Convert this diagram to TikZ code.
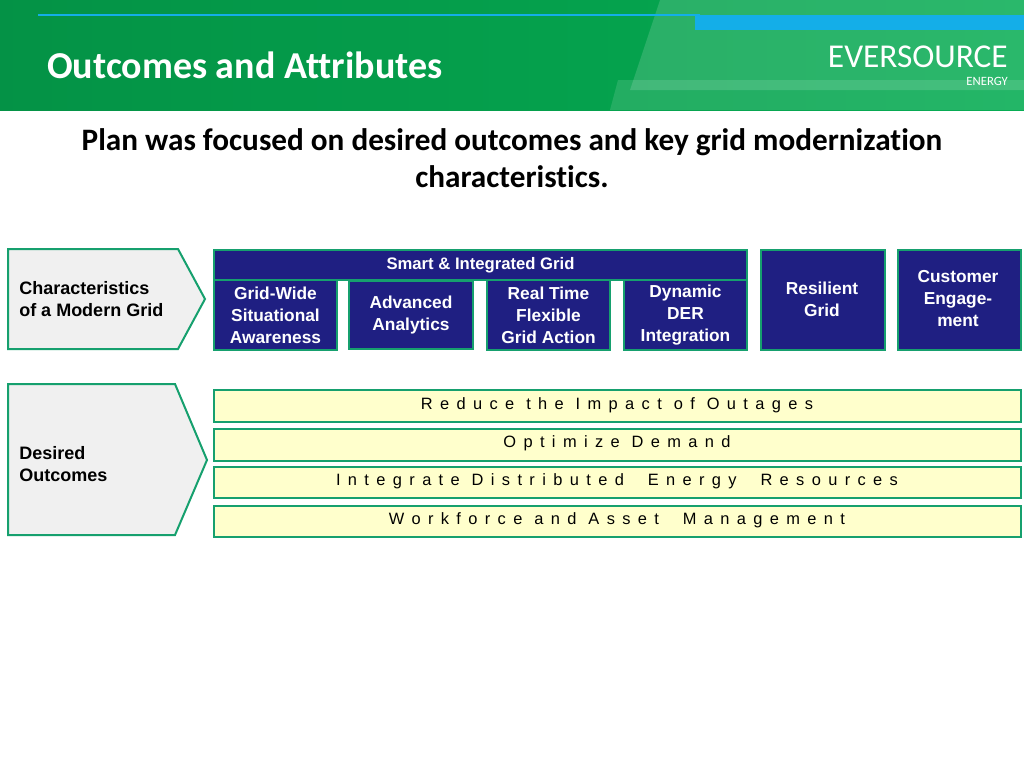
\documentclass[tikz,border=0pt]{standalone}
\usepackage{fontspec}
\setmainfont{Liberation Sans}
\newfontfamily\carl[Ligatures=NoCommon]{Carlito}
\definecolor{tealc}{HTML}{16A06E}
\definecolor{navy}{HTML}{1F1F82}
\definecolor{ylw}{HTML}{FFFFCC}
\definecolor{hdr}{HTML}{05AC52}
\definecolor{sky}{HTML}{14AEE8}
\tikzset{
 bluebox/.style={draw=tealc,line width=1.5pt,fill=navy,text=white,font=\bfseries\fontsize{13}{16.5}\selectfont,align=center},
 bar/.style={draw=tealc,line width=1.5pt,fill=ylw,font=\fontsize{12.3}{14}\selectfont\addfontfeature{LetterSpace=45}},
 chev/.style={draw=tealc,line width=1.5pt,fill=black!6},
 lbl/.style={font=\bfseries\fontsize{13.5}{16.5}\selectfont,align=left,anchor=west,inner sep=0}
}
\begin{document}
\begin{tikzpicture}[x=0.75pt,y=-0.75pt]
\useasboundingbox (0,0) rectangle (1024,768);
\fill[white] (0,0) rectangle (1024,768);
% header
\shade[left color=hdr!85!black,right color=hdr] (0,0) rectangle (1024,110);
\fill[white,opacity=0.15] (660,0) -- (1024,0) -- (1024,90) -- (630,90) -- cycle;
\fill[white,opacity=0.12] (618,80) -- (1024,80) -- (1024,110) -- (610,110) -- cycle;
\draw[sky,line width=1pt] (38,15) -- (700,15);
\fill[sky] (695,15) rectangle (1024,30);
\node[anchor=west,text=white,font=\carl\bfseries\fontsize{28.5}{30}\selectfont,inner sep=0] (title) at (47,65) {Outcomes and Attributes};
\node[anchor=east,text=white,font=\carl\fontsize{25}{26}\selectfont,inner sep=0] (logo) at (1008,57) {EVERSOURCE};
\node[anchor=north east,text=white,font=\carl\fontsize{9.5}{10}\selectfont,inner sep=0] (energy) at (1008,77) {ENERGY};
\node[font=\carl\bfseries\fontsize{23.4}{28}\selectfont,align=center] (head) at (512,158) {Plan was focused on desired outcomes and key grid modernization\\characteristics.};
% chevrons
\draw[chev] (8,249) -- (178,249) -- (205,299) -- (178,349) -- (8,349) -- cycle;
\node[lbl] (c1) at (19,299) {Characteristics\\of a Modern Grid};
\draw[chev] (8,384) -- (175,384) -- (207,460) -- (175,535) -- (8,535) -- cycle;
\node[lbl] (c2) at (19,464) {Desired\\Outcomes};
% blue boxes
\node[bluebox,minimum width=533*0.75pt,minimum height=30*0.75pt,anchor=north west,font=\bfseries\fontsize{12.5}{14}\selectfont] (smart) at (213,249) {Smart \& Integrated Grid};
\node[bluebox,minimum width=123*0.75pt,minimum height=70*0.75pt,anchor=north west,inner sep=0] (gw) at (213,279) {Grid-Wide\\Situational\\Awareness};
\node[bluebox,minimum width=124*0.75pt,minimum height=68*0.75pt,anchor=north west,inner sep=0] (aa) at (348,280) {Advanced\\Analytics};
\node[bluebox,minimum width=123*0.75pt,minimum height=70*0.75pt,anchor=north west,inner sep=0] (rt) at (486,279) {Real Time\\Flexible\\Grid Action};
\node[bluebox,minimum width=123*0.75pt,minimum height=70*0.75pt,anchor=north west,inner sep=0] (dd) at (623,279) {Dynamic\\DER\\Integration};
\node[bluebox,minimum width=124*0.75pt,minimum height=100*0.75pt,anchor=north west,inner sep=0] (rg) at (760,249) {};
\node[text=white,font=\bfseries\fontsize{13}{16.5}\selectfont,align=center] (rgt) at (822,299) {Resilient\\Grid};
\node[bluebox,minimum width=123*0.75pt,minimum height=100*0.75pt,anchor=north west,inner sep=0] (ce) at (897,249) {};
\node[text=white,font=\bfseries\fontsize{13}{16.5}\selectfont,align=center] (cet) at (958,299) {Customer\\Engage-\\ment};
% bars
\node[bar,minimum width=807*0.75pt,minimum height=32*0.75pt,anchor=north west] (b1) at (213,389) {};
\node[bar,draw=none,fill=none] (t1) at (617,405) {Reduce the Impact of Outages};
\node[bar,minimum width=807*0.75pt,minimum height=32*0.75pt,anchor=north west] (b2) at (213,428) {};
\node[bar,draw=none,fill=none] (t2) at (617,443) {Optimize Demand};
\node[bar,minimum width=807*0.75pt,minimum height=31*0.75pt,anchor=north west] (b3) at (213,466) {};
\node[bar,draw=none,fill=none] (t3) at (617,481) {Integrate Distributed\ \ Energy\ \ Resources};
\node[bar,minimum width=807*0.75pt,minimum height=31*0.75pt,anchor=north west] (b4) at (213,505) {};
\node[bar,draw=none,fill=none] (t4) at (617,520) {Workforce and Asset\ \ Management};
\end{tikzpicture}
\end{document}
